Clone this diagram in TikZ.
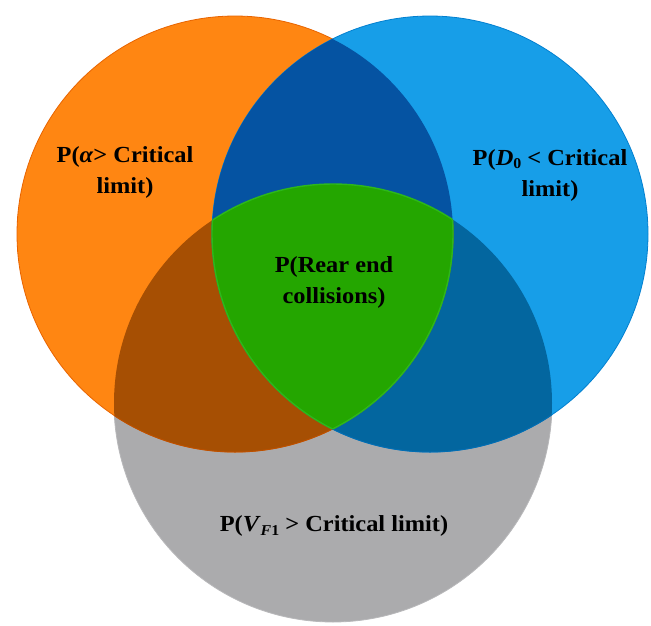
\documentclass[tikz,border=0pt]{standalone}
\usepackage{fontspec}
\setmainfont{Liberation Serif}[FakeStretch=1.06]
\definecolor{oIn}{HTML}{FF8612}
\definecolor{oOut}{HTML}{F46D00}
\definecolor{oEdge}{HTML}{E86400}
\definecolor{bIn}{HTML}{179EE8}
\definecolor{bOut}{HTML}{0689D8}
\definecolor{bEdge}{HTML}{0380D0}
\definecolor{gFill}{HTML}{ABABAD}
\definecolor{gEdge}{HTML}{B8B8BA}
\definecolor{cOB}{HTML}{0553A2}
\definecolor{cOG}{HTML}{A64F03}
\definecolor{cBG}{HTML}{03669F}
\definecolor{cAll}{HTML}{24A600}
\definecolor{cAllEdge}{HTML}{2DB81A}
\pgfdeclareradialshading{oshade}{\pgfpoint{0bp}{0bp}}{color(0bp)=(oIn); color(30bp)=(oIn); color(50bp)=(oOut)}
\pgfdeclareradialshading{bshade}{\pgfpoint{0bp}{0bp}}{color(0bp)=(bIn); color(30bp)=(bIn); color(50bp)=(bOut)}
\tikzset{
  lbl/.style={font=\fontsize{23}{31}\selectfont\bfseries, align=center, text=black, inner sep=0pt},
  orangeset/.style={shading=oshade, draw=oEdge, line width=0.8pt},
  blueset/.style={shading=bshade, draw=bEdge, line width=0.8pt},
  grayset/.style={fill=gFill, draw=gEdge, line width=0.8pt}
}
\newcommand\subtx[1]{\raisebox{-0.35ex}{\fontsize{15}{15}\selectfont #1}}
\begin{document}
\begin{tikzpicture}[x=1pt,y=-1pt]
\useasboundingbox (0,0) rectangle (651,625);
\fill[white] (0,0) rectangle (651,625);
\def\Ocirc{(235,234) circle[radius=218pt]}
\def\Bcirc{(430,234) circle[radius=218pt]}
\def\Gcirc{(333,403) circle[radius=219pt]}
% base circles
\path[grayset] \Gcirc;
\path[orangeset] \Ocirc;
\path[blueset] \Bcirc;
% pairwise intersections
\begin{scope}\clip \Ocirc; \fill[cOB] \Bcirc; \end{scope}
\begin{scope}\clip \Ocirc; \fill[cOG] \Gcirc; \end{scope}
\begin{scope}\clip \Bcirc; \fill[cBG] \Gcirc; \end{scope}
% lower edges of the overlaps over the gray circle
\begin{scope}\clip \Gcirc; \draw[oEdge!80!black, line width=1pt] \Ocirc; \draw[bEdge!85!black, line width=1pt] \Bcirc; \end{scope}
% triple intersection
\begin{scope}\clip \Ocirc; \clip \Bcirc; \fill[cAll] \Gcirc; \draw[cAllEdge, line width=1.4pt] \Gcirc; \end{scope}
\begin{scope}\clip \Bcirc; \clip \Gcirc; \draw[cAllEdge, line width=1.4pt] \Ocirc; \end{scope}
\begin{scope}\clip \Ocirc; \clip \Gcirc; \draw[cAllEdge, line width=1.4pt] \Bcirc; \end{scope}
% labels
\node[lbl] (alpha) at (125,172) {P(\textit{α}> Critical\\limit)};
\node[lbl] (dzero) at (550,175) {P(\textit{D}\subtx{0} < Critical\\limit)};
\node[lbl] (rear) at (334,282) {P(Rear end\\collisions)};
\node[lbl] (vf) at (334,526) {P(\textit{V}\subtx{\textit{F}1} > Critical limit)};
\end{tikzpicture}
\end{document}
